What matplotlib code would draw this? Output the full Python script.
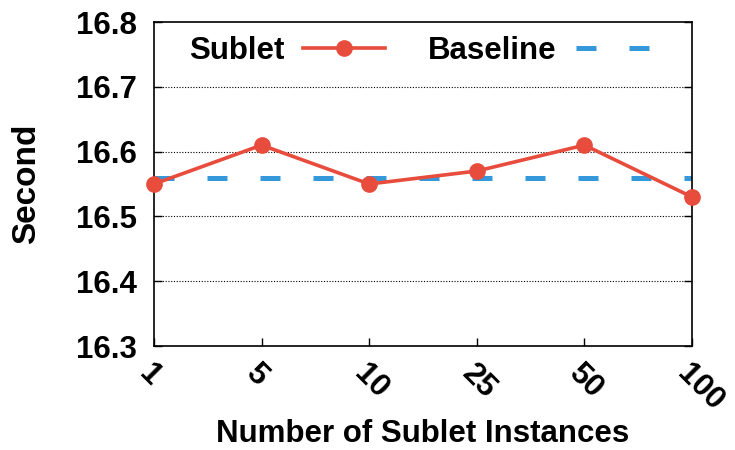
import matplotlib
matplotlib.use("Agg")
import matplotlib.pyplot as plt

plt.rcParams['font.family'] = ['Liberation Sans', 'DejaVu Sans']
plt.rcParams['font.weight'] = 'bold'

# Data
instances = ["1", "5", "10", "25", "50", "100"]
sublet = [16.55, 16.61, 16.55, 16.57, 16.61, 16.53]
baseline = [16.56, 16.56, 16.56, 16.56, 16.56, 16.56]
y_ticks = [16.3, 16.4, 16.5, 16.6, 16.7, 16.8]

red = "#e74c3c"
blue = "#3498db"
fs = 22.5

fig = plt.figure(figsize=(7.35, 4.5), dpi=100)
ax = fig.add_axes([154 / 735, 1 - 346 / 450, (692 - 154) / 735, (346 - 22) / 450])

x = list(range(len(instances)))
ax.plot(x, sublet, color=red, lw=2.6, marker='o', markersize=11,
        label="Sublet", zorder=3, clip_on=False)
ax.plot(x, baseline, color=blue, lw=3.6, dashes=(4, 6.6),
        label="Baseline", zorder=2)

ax.set_xlim(0, len(instances) - 1)
ax.set_ylim(16.3, 16.8)
ax.set_yticks(y_ticks)
ax.set_yticklabels([f"{v:.1f}" for v in y_ticks], fontsize=fs, fontweight='bold')
ax.set_xticks(x)
ax.set_xticklabels(instances, fontsize=fs, fontweight='bold', rotation=-45,
                   ha='left', va='top', rotation_mode='anchor')

for yv in y_ticks[1:-1]:
    ax.axhline(yv, color='black', lw=0.8, ls=(0, (1, 1.5)), zorder=1)

ax.tick_params(axis='y', direction='in', length=6, width=1, right=True, pad=12)
ax.tick_params(axis='x', direction='in', length=6, width=1, pad=9)
for s in ax.spines.values():
    s.set_linewidth(1.2)

ax.set_xlabel("Number of Sublet Instances", fontsize=fs, fontweight='bold', labelpad=2)
ax.set_ylabel("Second", fontsize=24, fontweight='bold', labelpad=25)

leg = ax.legend(loc='upper center', ncol=2, frameon=False, markerfirst=False,
                fontsize=fs, handlelength=2.6, columnspacing=1.4,
                bbox_to_anchor=(0.5, 1.045), handletextpad=0.6)

fig.savefig("out.png", dpi=100)
